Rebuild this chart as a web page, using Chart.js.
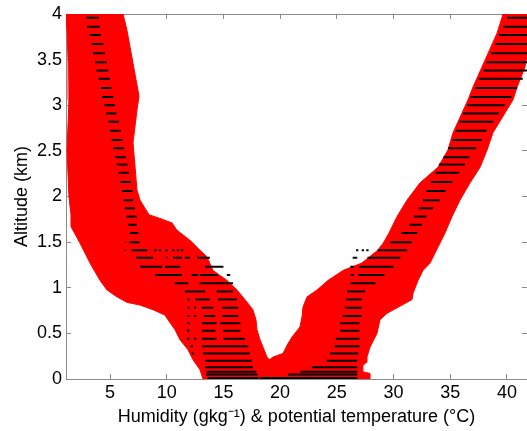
<!DOCTYPE html>
<html><head><meta charset="utf-8">
<style>html,body{margin:0;padding:0;background:#fff;}#wrap{width:527px;height:431px;}</style>
<script src="https://cdn.jsdelivr.net/npm/chart.js@4.4.1/dist/chart.umd.min.js"></script>
</head><body><div id="wrap"><canvas id="c" width="527" height="431"></canvas></div>
<script>
// ---- tick labels ----
const xTicks = [5, 10, 15, 20, 25, 30, 35, 40];
const yTicks = [0, 0.5, 1, 1.5, 2, 2.5, 3, 3.5, 4];

// ---- humidity envelope (red band, left) ----
const humLoAlt = [0, 0.10, 0.21, 0.32, 0.43, 0.54, 0.65, 0.70, 0.76, 0.81, 0.84, 0.90, 0.975, 1.08, 1.27, 1.49, 1.67, 1.80, 2.0, 2.5, 3.06, 3.5, 3.82, 4.0];
const humLoX   = [13.2, 12.94, 12.32, 11.88, 11.17, 10.73, 10.11, 9.85, 8.79, 7.64, 6.5, 5.62, 4.74, 4.12, 3.24, 2.35, 1.56, 1.56, 1.38, 1.21, 1.38, 1.3, 1.21, 1.1];
const humHiAlt = [0, 0.15, 0.24, 0.35, 0.43, 0.54, 0.65, 0.76, 0.87, 0.975, 1.08, 1.19, 1.34, 1.41, 1.52, 1.63, 1.71, 1.76, 1.80, 1.96, 2.07, 2.59, 2.95, 3.1, 3.82, 4.0];
const humHiX   = [20.0, 19.5, 18.84, 18.49, 18.23, 17.96, 17.87, 17.6, 16.9, 16.2, 15.32, 14.08, 13.55, 12.94, 12.05, 10.91, 10.47, 9.41, 8.44, 7.65, 7.38, 7.03, 7.38, 7.56, 6.5, 6.15];

// ---- potential temperature envelope (red band, right) ----
const tmpLoAlt = [0, 0.15, 0.24, 0.28, 0.39, 0.46, 0.57, 0.68, 0.79, 0.9, 0.975, 1.08, 1.19, 1.27, 1.41, 1.49, 1.6, 1.78, 1.96, 2.15, 2.32, 2.51, 2.7, 3.06, 3.2, 3.42, 3.79, 4.0];
const tmpLoX   = [18.05, 18.4, 19.37, 20.25, 20.7, 21.05, 21.75, 21.93, 22.02, 22.37, 23.25, 24.22, 25.55, 27.2, 28.6, 29.1, 29.6, 30.31, 31.19, 32.34, 33.92, 34.8, 35.25, 36.57, 37.01, 37.8, 39.13, 39.66];
const tmpHiAlt = [0, 0.06, 0.08, 0.15, 0.18, 0.24, 0.35, 0.5, 0.65, 0.72, 0.87, 0.94, 1.08, 1.19, 1.27, 1.49, 1.6, 1.78, 1.96, 2.15, 2.32, 2.51, 2.7, 3.06, 3.2, 3.42, 3.72, 4.0];
const tmpHiX   = [27.93, 27.93, 27.3, 27.3, 27.6, 27.66, 27.93, 28.54, 28.81, 29.43, 31.63, 31.72, 32.16, 32.6, 33.22, 34.1, 34.54, 35.16, 35.86, 36.75, 37.63, 38.25, 38.77, 40.54, 40.9, 41.6, 42.0, 43.0];

// ---- ensemble members (black dots), grouped by altitude level ----
const levels = [0.01, 0.05, 0.08, 0.13, 0.20, 0.28, 0.36, 0.44, 0.53, 0.61, 0.69, 0.78, 0.87, 0.96, 1.05, 1.14, 1.23, 1.33, 1.41, 1.50, 1.60, 1.69, 1.78, 1.87, 1.96, 2.06, 2.16, 2.26, 2.35, 2.43, 2.53, 2.62, 2.72, 2.82, 2.91, 3.00, 3.09, 3.19, 3.29, 3.38, 3.47, 3.57, 3.67, 3.77, 3.86, 3.96];
const humSegs = [
  [[13.6,18.1]], [[13.5,18.0]], [[13.5,17.9]], [[13.4,17.6]], [[13.4,17.5]],
  [[12.2,12.4],[13.2,17.35]],
  [[12.1,12.3],[13.1,17.2]],
  [[11.8,12.0],[12.4,12.6],[13.1,14.4],[15.0,16.9]],
  [[11.8,12.0],[13.1,14.3],[15.0,16.5]],
  [[11.8,12.0],[13.1,14.4],[14.7,16.5]],
  [[11.8,12.0],[12.4,12.6],[13.3,14.3],[14.9,16.3]],
  [[11.8,12.0],[12.4,12.6],[13.1,14.1],[14.9,16.3]],
  [[11.8,12.0],[12.5,13.8],[14.5,16.2]],
  [[11.6,13.4],[14.4,15.85]],
  [[10.7,11.9],[12.9,15.85]],
  [[9.0,11.35],[12.2,12.75],[12.9,14.5],[15.3,15.6]],
  [[7.65,9.6],[9.85,11.2],[13.4,15.0]],
  [[7.3,8.8],[9.95,10.1],[10.55,11.35],[11.6,12.05],[12.7,13.8]],
  [[6.3,6.4],[6.9,8.3],[8.9,9.1],[9.3,9.5],[9.9,10.1],[10.5,10.7],[10.9,11.1],[11.25,11.45]],
  [[6.3,6.4],[6.7,7.6]],
  [[6.75,7.5]], [[6.6,7.35]], [[6.45,7.35]], [[6.3,7.2]], [[6.2,7.05]], [[6.05,7.0]],
  [[5.9,6.85]], [[5.75,6.7]], [[5.6,6.55]], [[5.45,6.4]], [[5.3,6.25]], [[5.15,6.1]],
  [[5.0,5.95]], [[4.85,5.8]], [[4.65,5.6]], [[4.5,5.45]], [[4.3,5.3]], [[4.2,5.15]],
  [[4.0,5.0]], [[3.8,4.85]], [[3.7,4.7]], [[3.5,4.55]], [[3.4,4.4]], [[3.2,4.2]],
  [[3.0,4.1]], [[2.9,4.0]]
];
const tmpSegs = [
  [[18.2,26.8]], [[20.7,26.8]], [[21.8,26.8]], [[22.8,26.8]], [[24.1,26.8]],
  [[24.4,26.9]], [[24.8,27.0]], [[24.9,27.0]], [[25.3,27.0]], [[25.3,27.0]],
  [[25.5,27.2]], [[25.7,27.2]], [[25.8,27.2]], [[25.9,27.5]], [[26.2,28.4]],
  [[26.2,26.5],[26.9,29.2]],
  [[26.2,26.5],[27.0,30.0]],
  [[26.4,26.8],[27.7,30.6]],
  [[26.7,26.9],[27.2,27.4],[27.6,27.8],[28.6,31.2]],
  [[29.7,31.6]], [[30.7,32.1]], [[31.4,32.5]], [[31.8,32.9]], [[32.2,33.5]], [[32.6,34.1]],
  [[32.9,34.6]], [[33.3,35.2]], [[33.7,35.8]], [[34.0,36.3]], [[34.4,36.7]], [[34.8,37.3]],
  [[35.2,37.8]], [[35.5,38.2]], [[35.8,38.8]], [[36.1,39.3]], [[36.5,39.8]], [[36.8,40.4]],
  [[37.2,40.9]], [[37.5,41.4]], [[37.9,42.5]], [[38.2,42.5]], [[38.6,41.9]], [[39.0,42.0]],
  [[39.3,42.3]], [[39.7,43.0]], [[40.0,43.0]]
];

const X_MIN = 1.12, X_MAX = 41.77, Y_MIN = 0, Y_MAX = 4;
const FONT = "'Liberation Sans', Arial, Helvetica, sans-serif";
const AX = '#8a8a8a';
const RED = '#ff0000';

function pts(alts, xs) { return alts.map((a, i) => ({ x: xs[i], y: a })); }
function dashes(segs) {
  const out = [];
  levels.forEach((lev, i) => {
    segs[i].forEach(s => { out.push({ x: s[0], y: lev }, { x: s[1], y: lev }, { x: null, y: lev }); });
  });
  return out;
}
const dashStyle = { indexAxis: 'y', borderColor: '#000', borderWidth: 2, borderCapStyle: 'butt', pointRadius: 0, fill: false, spanGaps: false, tension: 0 };
const bandStyle = { indexAxis: 'y', borderColor: RED, backgroundColor: RED, borderWidth: 1, pointRadius: 0, tension: 0 };

const setX = s => { s.ticks = xTicks.map(v => ({ value: v })); };
const setY = s => { s.ticks = yTicks.map(v => ({ value: v })); };
const noPad = s => { s.paddingTop = 0; s.paddingBottom = 0; s.paddingLeft = 0; s.paddingRight = 0; };

new Chart(document.getElementById('c'), {
  type: 'line',
  data: {
    datasets: [
      Object.assign({ label: 'hum members', data: dashes(humSegs) }, dashStyle),
      Object.assign({ label: 'tmp members', data: dashes(tmpSegs) }, dashStyle),
      Object.assign({ label: 'hum lo', data: pts(humLoAlt, humLoX), fill: false }, bandStyle),
      Object.assign({ label: 'hum hi', data: pts(humHiAlt, humHiX), fill: '-1' }, bandStyle),
      Object.assign({ label: 'tmp lo', data: pts(tmpLoAlt, tmpLoX), fill: false }, bandStyle),
      Object.assign({ label: 'tmp hi', data: pts(tmpHiAlt, tmpHiX), fill: '-1' }, bandStyle)
    ]
  },
  options: {
    indexAxis: 'y',
    responsive: false,
    animation: false,
    devicePixelRatio: 1,
    layout: { padding: { left: 0, right: 0, top: 14, bottom: 0 } },
    plugins: { legend: { display: false }, tooltip: { enabled: false } },
    scales: {
      x: {
        type: 'linear', position: 'bottom', min: X_MIN, max: X_MAX,
        afterBuildTicks: setX, afterFit: s => { s.height = 52; noPad(s); },
        grid: { drawOnChartArea: false, drawTicks: true, tickLength: -5, color: AX },
        border: { display: true, color: AX, width: 1 },
        ticks: { padding: 8, color: '#000', font: { family: FONT, size: 18 }, maxRotation: 0, autoSkip: false, callback: v => String(v) },
        title: { display: true, text: 'Humidity (gkg\u207B\u00B9) & potential temperature (\u00B0C)', color: '#000', font: { family: FONT, size: 18 }, padding: { top: 0, bottom: 3 } }
      },
      y: {
        type: 'linear', position: 'left', min: Y_MIN, max: Y_MAX,
        afterBuildTicks: setY, afterFit: s => { s.width = 66; noPad(s); },
        grid: { drawOnChartArea: false, drawTicks: true, tickLength: -5, color: AX },
        border: { display: true, color: AX, width: 1 },
        ticks: { padding: 9, color: '#000', font: { family: FONT, size: 18 }, autoSkip: false, callback: v => String(v) },
        title: { display: true, text: 'Altitude (km)', color: '#000', font: { family: FONT, size: 18 }, padding: { top: 11, bottom: 0 } }
      },
      x2: {
        type: 'linear', position: 'top', min: X_MIN, max: X_MAX,
        afterBuildTicks: setX, afterFit: s => { s.height = 0; noPad(s); },
        grid: { drawOnChartArea: false, drawTicks: true, tickLength: -5, color: AX },
        border: { display: true, color: AX, width: 1 },
        ticks: { display: false }
      },
      y2: {
        type: 'linear', position: 'right', min: Y_MIN, max: Y_MAX,
        afterBuildTicks: setY, afterFit: s => { s.width = 0; noPad(s); },
        grid: { drawOnChartArea: false, drawTicks: true, tickLength: -5, color: AX },
        border: { display: true, color: AX, width: 1 },
        ticks: { display: false }
      }
    }
  }
});
</script>
</body></html>
